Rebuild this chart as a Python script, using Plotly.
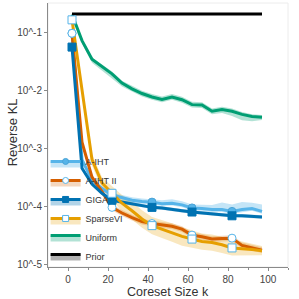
import plotly.graph_objects as go

# ---- data ----
coreset_k = [2, 7, 12, 17, 22, 27, 32, 37, 42, 47, 52, 57, 62, 67, 72, 77, 82, 87, 92, 97]

aiht = [9.5e-2, 6.3e-4, 2.8e-4, 2.0e-4, 1.55e-4, 1.38e-4, 1.26e-4, 1.20e-4, 1.17e-4, 1.10e-4,
        1.12e-4, 1.05e-4, 9.3e-5, 9.1e-5, 8.7e-5, 8.7e-5, 8.1e-5, 8.7e-5, 9.1e-5, 8.1e-5]
aiht_dn = [0.02, 0.05, 0.04, 0.04, 0.04, 0.04, 0.04, 0.04, 0.04, 0.04,
           0.04, 0.04, 0.04, 0.04, 0.04, 0.04, 0.04, 0.04, 0.04, 0.04]
aiht_up = [0.02, 0.05, 0.04, 0.04, 0.04, 0.05, 0.05, 0.05, 0.05, 0.06,
           0.07, 0.06, 0.06, 0.06, 0.08, 0.12, 0.12, 0.13, 0.10, 0.12]

aiht2 = [9.5e-2, 1.26e-3, 3.16e-4, 1.78e-4, 9.5e-5, 7.6e-5, 6.3e-5, 5.4e-5, 5.0e-5, 4.7e-5,
         4.5e-5, 4.0e-5, 3.16e-5, 2.95e-5, 2.7e-5, 2.75e-5, 2.8e-5, 2.1e-5, 1.9e-5, 1.74e-5]
aiht2_dn = [0.02] + [0.05] * 19
aiht2_up = [0.02] + [0.05] * 19

giga = [5.5e-2, 4.5e-4, 2.4e-4, 1.66e-4, 1.26e-4, 1.17e-4, 1.10e-4, 1.02e-4, 9.5e-5, 9.3e-5,
        8.9e-5, 8.3e-5, 7.9e-5, 7.6e-5, 7.4e-5, 7.1e-5, 6.8e-5, 6.8e-5, 6.6e-5, 6.5e-5]
giga_dn = [0.03] * 20
giga_up = [0.03] * 20

sparsevi = [1.62e-1, 1.0e-2, 6.3e-4, 2.5e-4, 1.66e-4, 1.12e-4, 8.3e-5, 6.0e-5, 4.6e-5, 4.0e-5,
            3.5e-5, 3.0e-5, 2.7e-5, 2.45e-5, 2.35e-5, 2.15e-5, 1.9e-5, 1.86e-5, 1.78e-5, 1.7e-5]
sparsevi_dn = [0.03, 0.10, 0.10, 0.10, 0.12, 0.14, 0.15, 0.15, 0.15, 0.16,
               0.16, 0.16, 0.15, 0.14, 0.14, 0.14, 0.13, 0.12, 0.10, 0.08]
sparsevi_up = [0.03, 0.10, 0.10, 0.10, 0.12, 0.14, 0.15, 0.15, 0.15, 0.16,
               0.16, 0.16, 0.15, 0.14, 0.14, 0.14, 0.13, 0.12, 0.10, 0.08]

uniform = [2.0e-1, 7.1e-2, 3.4e-2, 2.57e-2, 1.9e-2, 1.32e-2, 1.05e-2, 8.7e-3, 7.6e-3, 6.9e-3,
           7.6e-3, 6.8e-3, 5.6e-3, 5.5e-3, 4.3e-3, 4.6e-3, 4.3e-3, 3.8e-3, 3.5e-3, 3.4e-3]
uniform_dn = [0.02, 0.05, 0.06, 0.08, 0.08, 0.06, 0.05, 0.05, 0.05, 0.05,
              0.05, 0.05, 0.05, 0.05, 0.05, 0.06, 0.08, 0.10, 0.08, 0.05]
uniform_up = [0.02, 0.03, 0.03, 0.03, 0.04, 0.04, 0.05, 0.05, 0.05, 0.05,
              0.05, 0.05, 0.05, 0.05, 0.05, 0.05, 0.05, 0.04, 0.04, 0.04]

prior = [0.205] * 20
prior_dn = [0.005] * 20
prior_up = [0.005] * 20

y_tickvals = [1e-5, 1e-4, 1e-3, 1e-2, 1e-1]
y_ticktext = ["10^-5", "10^-4", "10^-3", "10^-2", "10^-1"]
x_tickvals = [0, 20, 40, 60, 80, 100]

# ---- styles ----
series = [
    ("A-IHT", aiht, aiht_dn, aiht_up, "#56B4E9", "rgba(86,180,233,0.35)", "circle", "#56B4E9", "#4aa3d6"),
    ("A-IHT II", aiht2, aiht2_dn, aiht2_up, "#D55E00", "rgba(213,94,0,0.25)", "circle", "white", "#56B4E9"),
    ("GIGA", giga, giga_dn, giga_up, "#0072B2", "rgba(0,114,178,0.3)", "square", "#0072B2", "#0072B2"),
    ("SparseVI", sparsevi, sparsevi_dn, sparsevi_up, "#E69F00", "rgba(230,159,0,0.25)", "square", "white", "#56B4E9"),
    ("Uniform", uniform, uniform_dn, uniform_up, "#009E73", "rgba(0,158,115,0.3)", None, None, None),
    ("Prior", prior, prior_dn, prior_up, "#000000", "rgba(0,0,0,0.3)", None, None, None),
]

fig = go.Figure()

for name, vals, dn, up, col, band, sym, mfill, mline in series:
    lo = [v / (10 ** d) for v, d in zip(vals, dn)]
    hi = [v * (10 ** u) for v, u in zip(vals, up)]
    fig.add_trace(go.Scatter(x=coreset_k + coreset_k[::-1], y=hi + lo[::-1], mode="lines",
                             fill="toself", fillcolor=band, line=dict(width=0),
                             showlegend=False, hoverinfo="skip"))

for name, vals, dn, up, col, band, sym, mfill, mline in series:
    fig.add_trace(go.Scatter(x=coreset_k, y=vals, mode="lines",
                             line=dict(color=col, width=3), showlegend=False))

for name, vals, dn, up, col, band, sym, mfill, mline in series:
    if sym is None:
        continue
    fig.add_trace(go.Scatter(x=coreset_k[::4], y=vals[::4], mode="markers",
                             marker=dict(symbol=sym, size=8, color=mfill,
                                         line=dict(color=mline, width=1)),
                             showlegend=False))

for name, vals, dn, up, col, band, sym, mfill, mline in series:
    kw = dict(x=[None], y=[None], name=name, fill="toself", fillcolor=band,
              line=dict(color=col, width=3))
    if sym is None:
        kw["mode"] = "lines"
    else:
        kw["mode"] = "lines+markers"
        kw["marker"] = dict(symbol=sym, size=6, color=mfill, line=dict(color=mline, width=1))
    fig.add_trace(go.Scatter(**kw))

axis_col = "#8a8a8a"
fig.update_layout(
    width=299, height=299,
    margin=dict(l=48, r=11, t=3, b=32, autoexpand=False),
    plot_bgcolor="white", paper_bgcolor="white",
    font=dict(family="Liberation Sans, Arial, sans-serif", color="#333333", size=10),
    showlegend=True,
    legend=dict(x=-0.01, y=-0.015, xanchor="left", yanchor="bottom",
                bgcolor="rgba(0,0,0,0)", font=dict(size=9, color="#333"), itemwidth=30,
                tracegroupgap=0),
    xaxis=dict(range=[-10, 110], tickvals=x_tickvals, ticks="outside", ticklen=3,
               tickcolor=axis_col, showline=True, linecolor=axis_col, linewidth=1,
               showgrid=False, zeroline=False, tickfont=dict(size=10, color="#444"),
               automargin=False,
               minor=dict(dtick=10, ticks="outside", ticklen=2, tickcolor=axis_col, showgrid=False)),
    yaxis=dict(type="log", range=[-5.05, -0.5], tickvals=y_tickvals, ticktext=y_ticktext,
               ticks="outside", ticklen=3, tickcolor=axis_col, showline=True,
               linecolor=axis_col, linewidth=1, showgrid=False, zeroline=False,
               automargin=False, tickfont=dict(size=10, color="#444")),
    shapes=[dict(type="rect", xref="paper", yref="paper", x0=0, x1=1, y0=0, y1=1,
                 line=dict(color="#ececec", width=1), layer="below")],
    annotations=[
        dict(text="Coreset Size k", xref="paper", yref="paper", x=0.5, y=-0.094,
             xanchor="center", yanchor="middle", showarrow=False,
             font=dict(size=12.5, color="#333")),
        dict(text="Reverse KL", xref="paper", yref="paper", x=-0.15, y=0.51,
             xanchor="center", yanchor="middle", textangle=-90, showarrow=False,
             font=dict(size=13, color="#333")),
    ],
)

fig.write_html("out.html", config={"displayModeBar": False},
               post_script="document.body.style.margin='0';")
